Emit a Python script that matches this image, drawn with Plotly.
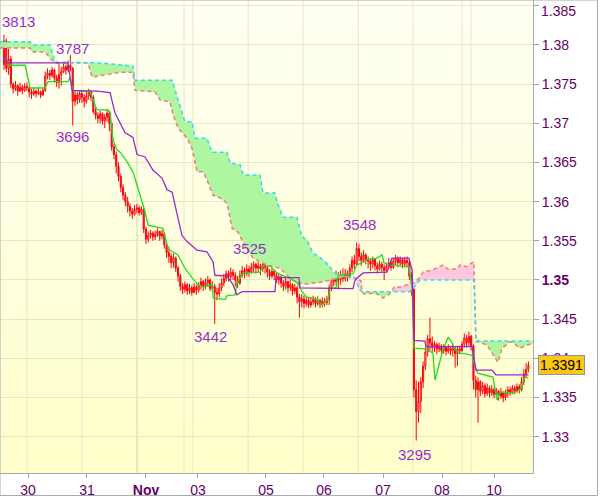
import plotly.graph_objects as go

# ---------------- data (prices in pips: 3805 -> 1.3805) ----------------
open_first = 3775
close_p = [
    3805,3770,3782,3750,3744,3748,3741,3746,3742,3747,
    3745,3740,3737,3741,3738,3740,3736,3742,3760,3764,
    3761,3768,3758,3752,3762,3766,3772,3768,3774,3770,
    3728,3736,3730,3738,3733,3728,3735,3740,3733,3715,
    3710,3706,3712,3703,3708,3713,3700,3670,3660,3645,
    3632,3618,3608,3600,3594,3588,3584,3590,3592,3586,
    3590,3565,3552,3557,3560,3555,3558,3562,3556,3559,
    3545,3535,3530,3522,3528,3515,3505,3492,3488,3494,
    3486,3490,3484,3491,3487,3493,3498,3492,3496,3500,
    3489,3492,3484,3482,3490,3496,3502,3508,3504,3510,
    3506,3500,3496,3506,3512,3508,3514,3510,3516,3520,
    3515,3518,3514,3520,3516,3510,3505,3511,3506,3500,
    3504,3496,3492,3498,3490,3494,3486,3490,3478,3472,
    3476,3470,3474,3468,3472,3475,3470,3474,3469,3473,
    3471,3475,3490,3502,3498,3506,3500,3505,3502,3508,
    3504,3515,3525,3520,3540,3530,3525,3532,3526,3524,
    3520,3526,3518,3514,3520,3516,3512,3518,3522,3516,
    3524,3528,3522,3526,3520,3525,3522,3505,3488,3360,
    3332,3345,3370,3390,3408,3425,3420,3414,3418,3412,
    3416,3410,3414,3409,3413,3410,3412,3406,3412,3410,
    3418,3426,3420,3428,3416,3372,3360,3370,3358,3365,
    3355,3362,3356,3360,3354,3358,3352,3356,3350,3355,
    3360,3356,3362,3358,3364,3360,3370,3380,3386,3391,
]
high_p = [
    3813,3808,3795,3786,3752,3754,3750,3752,3749,3751,
    3752,3748,3744,3745,3743,3745,3742,3746,3766,3770,
    3768,3772,3770,3762,3776,3772,3776,3775,3780,3787,
    3772,3742,3740,3742,3741,3737,3740,3744,3742,3736,
    3720,3714,3716,3714,3712,3718,3716,3702,3674,3664,
    3650,3636,3622,3612,3606,3598,3592,3596,3597,3595,
    3594,3592,3568,3562,3564,3562,3563,3566,3563,3564,
    3561,3548,3540,3534,3534,3530,3518,3508,3496,3498,
    3496,3495,3493,3496,3494,3497,3503,3500,3502,3505,
    3502,3498,3495,3490,3496,3502,3508,3512,3512,3516,
    3514,3510,3505,3512,3518,3516,3520,3518,3522,3524,
    3522,3523,3521,3525,3523,3518,3514,3515,3513,3510,
    3508,3506,3500,3503,3499,3500,3496,3495,3492,3482,
    3482,3480,3479,3477,3478,3480,3478,3479,3476,3478,
    3477,3480,3494,3508,3508,3512,3510,3512,3515,3514,
    3512,3520,3530,3532,3548,3546,3535,3538,3534,3530,
    3528,3530,3528,3522,3525,3523,3520,3522,3528,3525,
    3528,3532,3530,3530,3528,3529,3530,3524,3510,3490,
    3372,3370,3376,3396,3414,3430,3452,3428,3422,3420,
    3420,3418,3418,3416,3418,3416,3417,3415,3416,3416,
    3422,3432,3430,3434,3430,3418,3378,3376,3372,3370,
    3368,3368,3365,3366,3363,3362,3360,3362,3358,3360,
    3364,3364,3366,3365,3368,3367,3376,3386,3394,3396,
]
low_p = [
    3768,3765,3762,3745,3738,3741,3735,3740,3737,3740,
    3741,3733,3731,3735,3733,3736,3732,3735,3740,3756,
    3755,3758,3752,3746,3744,3748,3764,3762,3765,3766,
    3697,3722,3724,3726,3726,3720,3725,3730,3728,3712,
    3705,3700,3700,3698,3694,3702,3690,3665,3654,3636,
    3626,3612,3602,3594,3586,3581,3578,3582,3585,3582,
    3583,3560,3546,3548,3553,3550,3551,3555,3550,3552,
    3540,3528,3522,3515,3516,3510,3498,3486,3482,3484,
    3481,3482,3480,3483,3481,3484,3488,3486,3488,3491,
    3486,3485,3444,3474,3478,3486,3492,3498,3498,3500,
    3500,3492,3490,3494,3503,3502,3505,3504,3508,3510,
    3508,3510,3506,3510,3508,3503,3500,3502,3500,3496,
    3494,3490,3486,3488,3484,3486,3480,3482,3470,3452,
    3465,3464,3466,3464,3465,3468,3465,3467,3464,3465,
    3466,3468,3468,3486,3492,3494,3488,3494,3497,3498,
    3498,3502,3510,3514,3518,3524,3518,3522,3520,3515,
    3512,3515,3512,3508,3512,3510,3500,3510,3514,3512,
    3514,3518,3516,3518,3515,3516,3516,3500,3480,3350,
    3295,3318,3330,3362,3385,3402,3410,3408,3408,3405,
    3408,3405,3406,3404,3406,3404,3402,3388,3390,3405,
    3408,3414,3414,3416,3410,3360,3350,3318,3352,3354,
    3350,3352,3350,3352,3349,3350,3346,3348,3344,3346,
    3350,3352,3354,3354,3356,3355,3358,3366,3376,3382,
]

# Tenkan-sen (green) and Kijun-sen (purple), (bar index, pips)
tenkan_i = [0, 2.6, 9.2, 11.4, 17.9, 19.2, 27.9, 28.8, 30.1, 37.6, 38.9, 40.6, 45.4, 46.3, 47.6,
            49.3, 50.7, 53.7, 56.3, 58.5, 61.6, 62.9, 69.4, 71.2, 72.5, 76, 79, 82.1, 84.7, 86.9,
            90.8, 91.3, 96.5, 97.4, 100.9, 101.7, 104.4, 111.8, 113.1, 116.2, 119.2, 124, 127.9,
            130.1, 132.3, 136.7, 138.9, 141.5, 142.4, 145, 145.9, 152.4, 154.1, 158.5, 162.9,
            165.1, 165.9, 168.6, 176.8, 178.2, 179, 183.8, 187.3, 188.2, 191.7, 193.9, 195.6,
            196.9, 199.1, 204.4, 205.7, 206.9, 213.5, 215.3, 216.6, 222.3, 225.3, 227.5, 229]
tenkan_p = [3783, 3774, 3774, 3745, 3745, 3753, 3753, 3758, 3742, 3740, 3730, 3717, 3717, 3714, 3679,
            3666, 3663, 3651, 3638, 3617, 3587, 3570, 3566, 3545, 3538, 3532, 3515, 3503, 3494, 3491,
            3494, 3477, 3475, 3480, 3481, 3496, 3509, 3510, 3518, 3518, 3509, 3503, 3497,
            3485, 3478, 3475, 3468, 3475, 3490, 3490, 3506, 3508, 3519, 3526, 3528,
            3532, 3522, 3519, 3517, 3491, 3413, 3412, 3407, 3372, 3411, 3427, 3420,
            3411, 3407, 3404, 3389, 3381, 3376, 3347, 3357, 3356, 3360, 3376, 3375]
kijun_i = [0, 1.7, 27.9, 29.7, 40.6, 46.3, 48.5, 52.8, 56.3, 58.1, 61.6, 65.1, 69, 71.2, 73.4,
           74.7, 77.7, 79.9, 84.3, 88.6, 91.3, 92.1, 97.4, 100, 101.7, 103.9, 118.3, 118.8, 128.8,
           129.3, 152.4, 153.3, 156.8, 167.2, 169.4, 176.8, 178.2, 179, 183.8, 184.3, 204.4,
           206.1, 213.1, 214.8, 229]
kijun_p = [3783, 3777, 3777, 3742, 3741, 3739, 3713, 3688, 3682, 3660, 3657, 3640, 3630, 3615, 3612,
           3596, 3557, 3549, 3538, 3536, 3523, 3506, 3505, 3494, 3481, 3485, 3485, 3503, 3503,
           3490, 3489, 3500, 3509, 3510, 3528, 3528, 3513, 3423, 3422, 3415, 3415,
           3385, 3385, 3379, 3379]

# Senkou span A (salmon dashed) and span B (cyan dashed)
span_a_i = [-1.75, 11.4, 12.2, 17.9, 20.1, 22.3, 36.7, 38.4, 50.7, 56.3, 57.2, 65.9, 68.1, 72.5,
            73.8, 76, 79.9, 82.1, 84.3, 86.9, 88.6, 91.3, 94.3, 97.4, 99.6, 102.2, 104.4, 108.7,
            111.8, 114.8, 120.5, 123.6, 127.9, 132.3, 138, 143.7, 148.9, 153.3, 154.6, 155.9,
            156.3, 157.2, 160.7, 163.3, 165.5, 167.7, 169.4, 170.3, 172.9, 177.3, 179.5, 181.7,
            183, 187.3, 191.7, 193.9, 197.8, 199.1, 202.2, 204.4, 205.2, 206.1, 207, 210.9,
            215.7, 217.5, 221, 222.3, 225.3, 228.3, 231]
span_a_p = [3796, 3796, 3791, 3791, 3783, 3777, 3777, 3759, 3765, 3765, 3742, 3740, 3730, 3727,
            3711, 3694, 3681, 3668, 3638, 3638, 3628, 3608, 3605, 3598, 3566, 3561, 3548, 3528,
            3523, 3519, 3515, 3506, 3496, 3495, 3497, 3501, 3504, 3503, 3500, 3499,
            3485, 3482, 3483, 3482, 3477, 3481, 3485, 3491, 3491, 3495, 3497, 3504,
            3510, 3513, 3519, 3514, 3514, 3519, 3517, 3522, 3523, 3421, 3421, 3417,
            3395, 3413, 3421, 3420, 3413, 3417, 3419]
span_b_i = [-1.75, 11.4, 12.2, 20.1, 22.3, 41.9, 56.3, 57.2, 73.4, 75.5, 76.9, 79, 82.1, 83.4,
            88.6, 90.8, 97.4, 98.7, 103.1, 104.4, 111.8, 113.1, 118.3, 119.2, 121.8, 127.9, 130.1,
            132.3, 134.9, 138, 142.4, 143.7, 146.7, 153.3, 154.1, 155.5, 156.3, 169.4, 177.3,
            179.5, 181.7, 205.2, 206.1, 231]
span_b_p = [3804, 3804, 3800, 3800, 3778, 3777, 3773, 3755, 3755, 3736, 3723, 3702, 3702, 3681,
            3681, 3663, 3663, 3649, 3647, 3634, 3634, 3611, 3611, 3600, 3580, 3580, 3555,
            3551, 3534, 3529, 3517, 3510, 3506, 3503, 3496, 3487, 3485, 3485, 3485,
            3492, 3500, 3500, 3422, 3422]
# cloud colouring segments (start index, end index, kind)
cloud_segments = [(-1.75, 153.3, "up"), (153.3, 156.3, "down"), (156.3, 169.4, "up"),
                  (169.4, 205.2, "down"), (206.1, 231, "up")]

# axes
x_range = [-1.75, 231]
day_lines = [10, 34.1, 58.1, 78.6, 82.5, 106.6, 130.6, 154.7, 178.6, 200, 203.9]
month_line = 58.1
x_tickvals = [10.5, 36.2, 62, 84.7, 114.4, 139.7, 165.5, 191.3, 214]
x_ticktext = ["30", "31", "<b>Nov</b>", "03", "05", "06", "07", "08", "10"]
y_tickvals = [1.33, 1.335, 1.34, 1.345, 1.35, 1.355, 1.36, 1.365, 1.37, 1.375, 1.38, 1.385]
y_ticktext = ["1.33", "1.335", "1.34", "1.345", "<b>1.35</b>", "1.355", "1.36", "1.365",
              "1.37", "1.375", "1.38", ""]
top_tick_label = "1.385"
y_range = [1.325367, 1.385727]
last_price = "1.3391"
# extreme labels: text, paper x, paper y
extreme_labels = [("3813", 0.0338, 0.9535), ("3787", 0.1351, 0.8985), ("3696", 0.1351, 0.7104),
                  ("3442", 0.394, 0.2896), ("3525", 0.469, 0.4736), ("3548", 0.6754, 0.5264),
                  ("3295", 0.7786, 0.0381)]


def px(v):
    return 1 + v / 10000.0


N = len(close_p)
xs = list(range(N))
open_p = [open_first] + close_p[:-1]

fig = go.Figure()

# cloud fills
fill_cols = {"up": "rgba(170,245,155,0.95)", "down": "rgba(255,196,222,0.95)"}
for a, b, kind in cloud_segments:
    pa = [(x, p) for x, p in zip(span_a_i, span_a_p) if a <= x <= b]
    pb = [(x, p) for x, p in zip(span_b_i, span_b_p) if a <= x <= b]
    poly = pa + pb[::-1]
    fig.add_trace(go.Scatter(x=[q[0] for q in poly], y=[px(q[1]) for q in poly],
                             fill="toself", fillcolor=fill_cols[kind], mode="lines",
                             line=dict(width=0), hoverinfo="skip", showlegend=False))

fig.add_trace(go.Scatter(x=span_a_i, y=[px(v) for v in span_a_p], mode="lines",
                         line=dict(color="#f07a7a", width=1.5, dash="4px,3px"),
                         hoverinfo="skip", showlegend=False))
fig.add_trace(go.Scatter(x=span_b_i, y=[px(v) for v in span_b_p], mode="lines",
                         line=dict(color="#30dcf0", width=1.5, dash="4px,3px"),
                         hoverinfo="skip", showlegend=False))

fig.add_trace(go.Candlestick(
    x=xs, open=[px(v) for v in open_p], high=[px(v) for v in high_p],
    low=[px(v) for v in low_p], close=[px(v) for v in close_p],
    increasing=dict(line=dict(color="#ff0000", width=1), fillcolor="rgba(255,255,238,1)"),
    decreasing=dict(line=dict(color="#ff0000", width=1), fillcolor="#8a3fb5"),
    whiskerwidth=0, showlegend=False, hoverinfo="skip"))

fig.add_trace(go.Scatter(x=tenkan_i, y=[px(v) for v in tenkan_p], mode="lines",
                         line=dict(color="#22dd22", width=1.3), hoverinfo="skip", showlegend=False))
fig.add_trace(go.Scatter(x=kijun_i, y=[px(v) for v in kijun_p], mode="lines",
                         line=dict(color="#9b26cc", width=1.3), hoverinfo="skip", showlegend=False))

shapes = []
# background gradient (top whitish -> bottom light yellow)
nb = 40
for k in range(nb):
    t = (k + 0.5) / nb
    b_val = int(round(244 - (244 - 202) * t))
    shapes.append(dict(type="rect", xref="paper", yref="paper", x0=0, x1=1,
                       y0=1 - (k + 1) / nb, y1=1 - k / nb + 0.001, layer="below",
                       line=dict(width=0), fillcolor=f"rgb(255,255,{b_val})"))
for d in day_lines:
    shapes.append(dict(type="line", xref="x", yref="paper", x0=d, x1=d, y0=0, y1=1,
                       layer="below",
                       line=dict(color="#d6d2a4" if d == month_line else "#e9e6c2", width=1)))
# outer frame
shapes.append(dict(type="rect", xref="paper", yref="paper", x0=0, x1=597.5 / 533,
                   y0=-22.5 / 473, y1=1, line=dict(color="#a3abb5", width=1), layer="above"))

annotations = []
for txt, ax, ay in extreme_labels:
    annotations.append(dict(text=txt, xref="paper", yref="paper", x=ax, y=ay,
                            showarrow=False, xanchor="center", yanchor="middle",
                            font=dict(size=15, color="#9a2fc8")))
# top tick label, nudged inside the page like the original
annotations.append(dict(text=top_tick_label, xref="paper", yref="paper", x=539 / 533,
                        y=1 - 10.5 / 473, xanchor="left", yanchor="middle", showarrow=False,
                        font=dict(size=14, color="#660066")))
annotations.append(dict(text=last_price, xref="paper", yref="y", x=538 / 533,
                        y=px(close_p[-1]), xanchor="left", yanchor="middle", showarrow=False,
                        bgcolor="#fcc814", bordercolor="#8a96a6", borderwidth=1, borderpad=1,
                        font=dict(size=14, color="#000000")))

fig.update_layout(
    width=600, height=497, autosize=False,
    margin=dict(l=0, r=67, t=0, b=24),
    paper_bgcolor="#ffffff", plot_bgcolor="rgba(0,0,0,0)",
    font=dict(family="Liberation Sans, Arial, sans-serif", size=14, color="#660066"),
    showlegend=False, shapes=shapes, annotations=annotations,
    xaxis=dict(range=x_range, tickmode="array", tickvals=x_tickvals, ticktext=x_ticktext,
               showgrid=False, zeroline=False, ticks="outside", ticklen=4,
               tickcolor="#9aa4ae", showline=True, linecolor="#a3abb5", linewidth=1,
               rangeslider=dict(visible=False), fixedrange=True,
               tickfont=dict(size=14, color="#660066")),
    yaxis=dict(range=y_range, side="right", tickmode="array", tickvals=y_tickvals,
               ticktext=y_ticktext, showgrid=True, gridcolor="#e9e6c2", gridwidth=1,
               zeroline=False, ticks="outside", ticklen=5, tickcolor="#9aa4ae",
               showline=True, linecolor="#a3abb5", linewidth=1, fixedrange=True,
               tickfont=dict(size=14, color="#660066")),
)

fig.write_html("out.html", config={"displayModeBar": False, "staticPlot": True},
               post_script="document.body.style.margin='0px';document.body.style.overflow='hidden';")
